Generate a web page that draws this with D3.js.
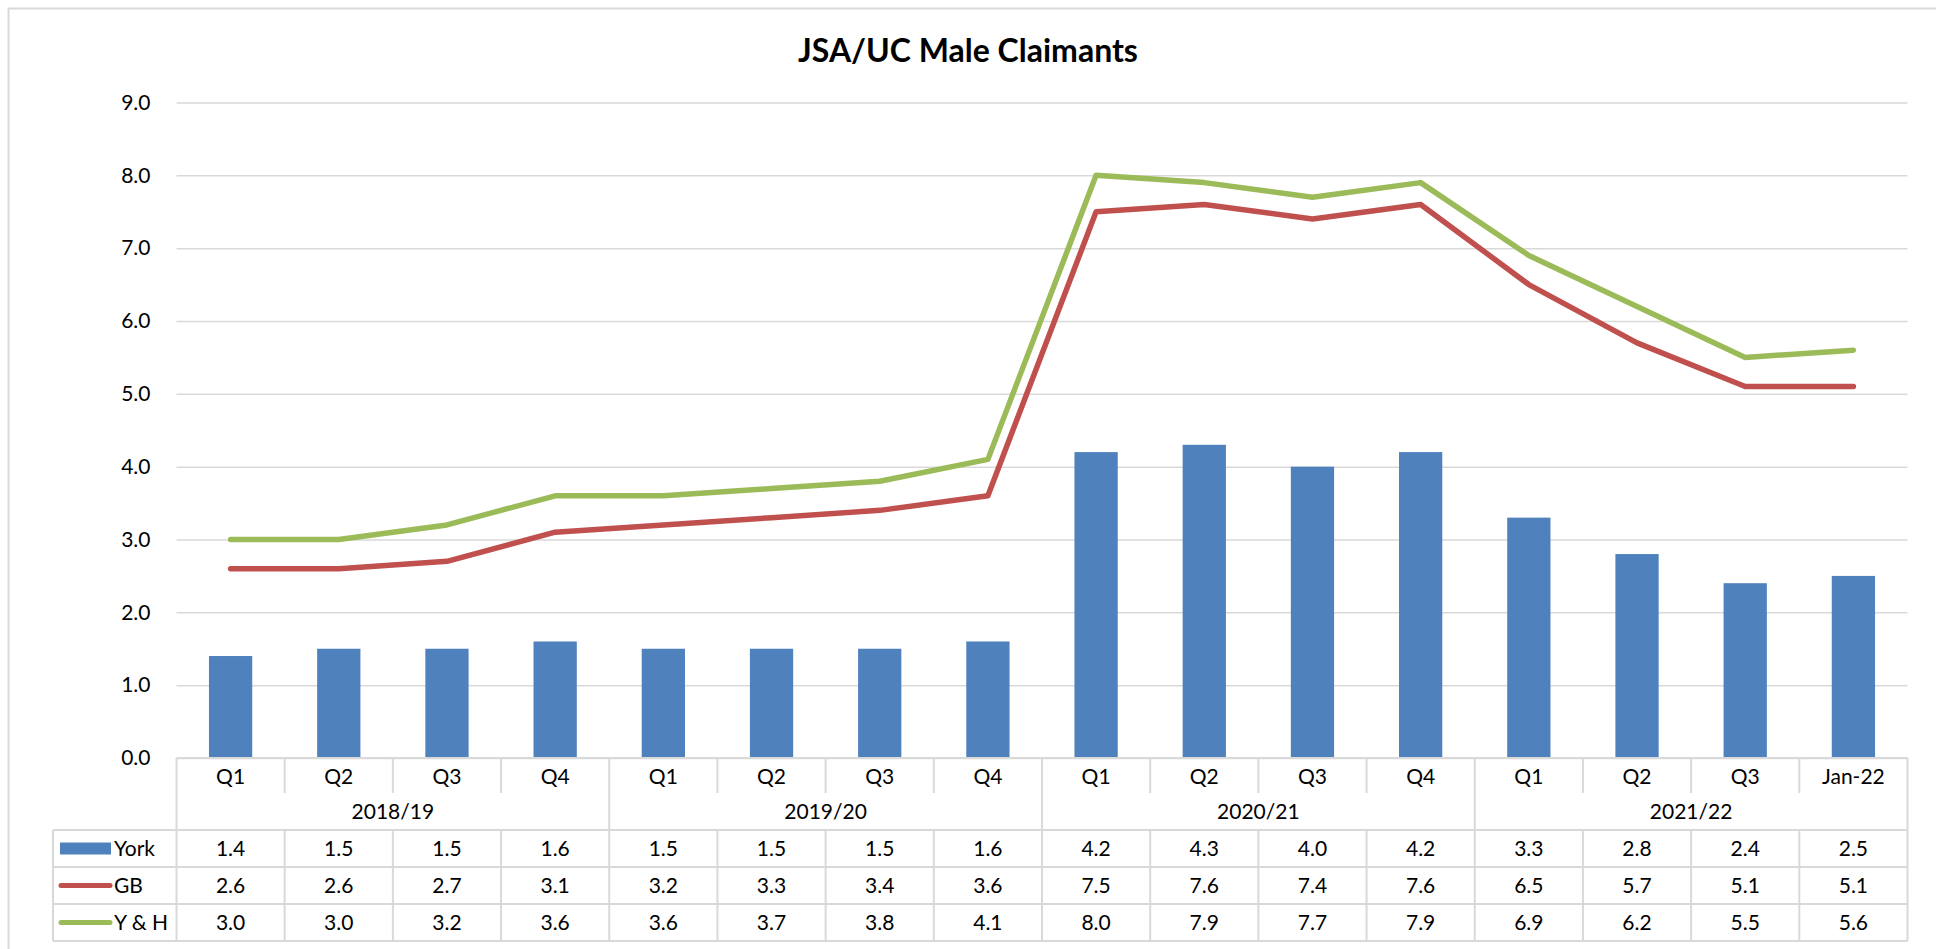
<!DOCTYPE html>
<html lang="en">
<head>
<meta charset="utf-8">
<title>JSA/UC Male Claimants</title>
<script src="https://d3js.org/d3.v7.min.js"></script>
<style>
  body { margin: 0; background: #fff; }
  text { font-family: Lato, 'Open Sans', sans-serif; fill: #000; }
  .title { font-size: 32px; font-weight: 700; }
  .lbl { font-size: 21px; }
</style>
</head>
<body>
<div id="chart"></div>
<script>
// data
var categories = ["Q1","Q2","Q3","Q4","Q1","Q2","Q3","Q4","Q1","Q2","Q3","Q4","Q1","Q2","Q3","Jan-22"];
var years = ["2018/19","2019/20","2020/21","2021/22"];
var york = [1.4,1.5,1.5,1.6,1.5,1.5,1.5,1.6,4.2,4.3,4.0,4.2,3.3,2.8,2.4,2.5];
var gb   = [2.6,2.6,2.7,3.1,3.2,3.3,3.4,3.6,7.5,7.6,7.4,7.6,6.5,5.7,5.1,5.1];
var yh   = [3.0,3.0,3.2,3.6,3.6,3.7,3.8,4.1,8.0,7.9,7.7,7.9,6.9,6.2,5.5,5.6];
var yTicks = [0,1,2,3,4,5,6,7,8,9];

var W = 1936, H = 949;
var plotL = 176.5, plotR = 1907.5, plotT = 102.5, plotB = 758;
var grid = "#d9d9d9";

var svg = d3.select("#chart").append("svg")
  .attr("width", W)
  .attr("height", H);

// outer frame (runs off the right and bottom edges)
svg.append("rect")
  .attr("x", 8.5).attr("y", 8.5)
  .attr("width", 2000).attr("height", 1000)
  .attr("fill", "none").attr("stroke", grid).attr("stroke-width", 2);

svg.append("text").attr("class", "title")
  .attr("x", W / 2).attr("y", 62)
  .attr("text-anchor", "middle")
  .text("JSA/UC Male Claimants");

var idx = d3.range(categories.length);
var x = d3.scaleBand().domain(idx).range([plotL, plotR]).padding(0);
var y = d3.scaleLinear().domain([0, 9]).range([plotB, plotT]);

// gridlines
svg.append("g")
  .attr("transform", "translate(" + plotL + ",0)")
  .call(d3.axisLeft(y).tickValues(yTicks).tickSize(-(plotR - plotL)).tickFormat(""))
  .call(g => g.select(".domain").remove())
  .call(g => g.selectAll("line").attr("stroke", grid).attr("stroke-width", 1.5));

// y labels
svg.append("g")
  .attr("transform", "translate(" + (plotL - 26) + ",0)")
  .call(d3.axisLeft(y).tickValues(yTicks).tickSize(0).tickFormat(d3.format(".1f")))
  .call(g => g.select(".domain").remove())
  .call(g => g.selectAll("text").attr("x", 0)
    .style("font-family", "Lato, sans-serif").style("font-size", "21px").style("fill", "#000"));

// bars
var bw = x.bandwidth() * 0.4;
svg.append("g").selectAll("rect")
  .data(york)
  .enter().append("rect")
    .attr("x", (d, i) => x(i) + (x.bandwidth() - bw) / 2)
    .attr("y", d => y(d))
    .attr("width", bw)
    .attr("height", d => y(0) - y(d))
    .attr("fill", "#4f81bd");

// lines
var line = d3.line()
  .x((d, i) => x(i) + x.bandwidth() / 2)
  .y(d => y(d));

svg.append("path").datum(gb)
  .attr("d", line).attr("fill", "none")
  .attr("stroke", "#c0504d").attr("stroke-width", 5.5)
  .attr("stroke-linejoin", "round").attr("stroke-linecap", "round");
svg.append("path").datum(yh)
  .attr("d", line).attr("fill", "none")
  .attr("stroke", "#9bbb59").attr("stroke-width", 5.5)
  .attr("stroke-linejoin", "round").attr("stroke-linecap", "round");

// data table
var tbl = svg.append("g");
var qBottom = 793, yrBottom = 830, rowH = 37;
var tableLeft = 53;
var rows = [
  {name: "York", vals: york, color: "#4f81bd", key: "bar"},
  {name: "GB", vals: gb, color: "#c0504d", key: "line"},
  {name: "Y & H", vals: yh, color: "#9bbb59", key: "line"}
];
var tableBottom = yrBottom + rowH * rows.length;

function hline(x1, x2, yy) {
  tbl.append("line").attr("x1", x1).attr("x2", x2).attr("y1", yy).attr("y2", yy)
    .attr("stroke", grid).attr("stroke-width", 2);
}
function vline(xx, y1, y2) {
  tbl.append("line").attr("x1", xx).attr("x2", xx).attr("y1", y1).attr("y2", y2)
    .attr("stroke", grid).attr("stroke-width", 2);
}

hline(plotL, plotR, plotB);
hline(tableLeft, plotR, yrBottom);
rows.forEach((r, k) => hline(tableLeft, plotR, yrBottom + rowH * (k + 1)));
vline(tableLeft, yrBottom, tableBottom);

// category boundaries
d3.range(categories.length + 1).forEach(i => {
  var xx = i < categories.length ? x(i) : plotR;
  var groupEdge = i % 4 === 0;
  vline(xx, plotB, groupEdge ? yrBottom : qBottom);
  vline(xx, yrBottom, tableBottom);
});

// category labels
tbl.selectAll(".cat").data(categories).enter().append("text")
  .attr("class", "lbl")
  .attr("x", (d, i) => x(i) + x.bandwidth() / 2)
  .attr("y", 777).attr("dy", "0.35em")
  .attr("text-anchor", "middle")
  .text(d => d);

// year labels
tbl.selectAll(".yr").data(years).enter().append("text")
  .attr("class", "lbl")
  .attr("x", (d, i) => (x(i * 4) + (i * 4 + 4 < categories.length ? x(i * 4 + 4) : plotR)) / 2)
  .attr("y", 812).attr("dy", "0.35em")
  .attr("text-anchor", "middle")
  .text(d => d);

// series rows
rows.forEach((r, k) => {
  var cy = yrBottom + rowH * k + rowH / 2;
  if (r.key === "bar") {
    tbl.append("rect").attr("x", 60).attr("y", cy - 6).attr("width", 51).attr("height", 12)
      .attr("fill", r.color);
  } else {
    tbl.append("line").attr("x1", 61).attr("x2", 110).attr("y1", cy).attr("y2", cy)
      .attr("stroke", r.color).attr("stroke-width", 5).attr("stroke-linecap", "round");
  }
  tbl.append("text").attr("class", "lbl")
    .attr("x", 114).attr("y", cy).attr("dy", "0.35em")
    .text(r.name);
  tbl.selectAll(".v" + k).data(r.vals).enter().append("text")
    .attr("class", "lbl")
    .attr("x", (d, i) => x(i) + x.bandwidth() / 2)
    .attr("y", cy).attr("dy", "0.35em")
    .attr("text-anchor", "middle")
    .text(d => d3.format(".1f")(d));
});
</script>
</body>
</html>
